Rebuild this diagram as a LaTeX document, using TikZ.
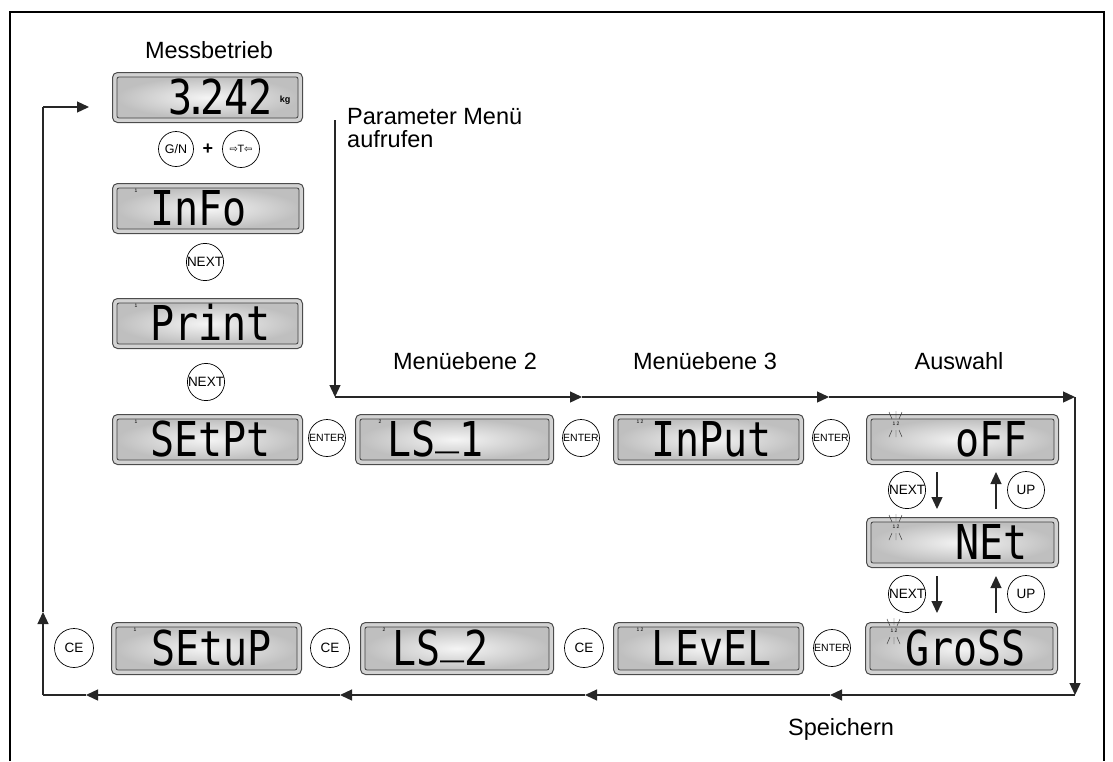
\documentclass[tikz,border=0pt]{standalone}
\usepackage{fontspec}
\setmainfont{Liberation Sans}
\newfontfamily\lcdfont{DejaVu Sans Mono}
\newfontfamily\symfont{DejaVu Sans}
\usetikzlibrary{arrows.meta}
\tikzset{
  frameline/.style={line width=2pt, black},
  flow/.style={line width=1.3pt, black!85},
  tip/.style={-{Triangle[length=12pt,width=11pt]}},
  lbl/.style={font=\fontsize{23.5}{25}\selectfont, inner sep=0pt},
  btn/.style={circle, draw, line width=0.7pt, minimum size=37pt, inner sep=0pt, fill=white, font=\fontsize{13.5}{13.5}\selectfont},
  btnsmall/.style={btn, font=\fontsize{10.5}{10.5}\selectfont},
  lcdout/.style={draw=black!70, line width=1pt, fill=gray!35, rounded corners=5pt, inner sep=0pt},
  lcdin/.style={draw=black!75, line width=0.8pt, rounded corners=2pt, inner color=white!92!gray, outer color=gray!50, inner sep=0pt},
  lcdtxt/.style={inner sep=0pt},
  ind/.style={font=\fontsize{5}{5}\selectfont, inner sep=0pt},
  ray/.style={line width=0.45pt, black!80},
}
\newcommand\lcdt[1]{{\lcdfont\fontsize{40}{40}\selectfont\scalebox{1}[1.2]{#1}}}
\newcommand\lcdus{\raisebox{0.3em}{\_}}
% name, left, top, width, height
\newcommand\lcdbox[5]{%
  \node[lcdout, minimum width=#4pt, minimum height=#5pt, anchor=north west] (#1) at (#2,#3) {};
  \node[lcdin, minimum width=#4pt-9pt, minimum height=#5pt-9pt] (#1i) at (#1.center) {};
}
\newcommand\blinkat[2]{%
  \draw[ray] (#1-6,#2-12) -- (#1-3,#2-5) (#1+1,#2-13) -- (#1+1,#2-6) (#1+7,#2-12) -- (#1+4,#2-5);
  \draw[ray] (#1-6,#2+13) -- (#1-3,#2+6) (#1+1,#2+13) -- (#1+1,#2+6) (#1+7,#2+13) -- (#1+4,#2+6);
}
\begin{document}
\begin{tikzpicture}[x=1pt,y=-1pt]
\useasboundingbox (0,0) rectangle (1113,761);
\draw[frameline] (10,761) -- (10,12) -- (1104,12) -- (1104,761);

% labels
\node[lbl, anchor=base] (tMess) at (209,58) {Messbetrieb};
\node[lbl, anchor=base west] (tPar) at (347,124) {Parameter Menü};
\node[lbl, anchor=base west] (tAuf) at (347,147) {aufrufen};
\node[lbl, anchor=base] (tM2) at (465,369) {Menüebene 2};
\node[lbl, anchor=base] (tM3) at (705,369) {Menüebene 3};
\node[lbl, anchor=base] (tAus) at (959,369) {Auswahl};
\node[lbl, anchor=base] (tSp) at (841,735) {Speichern};

% displays
\lcdbox{d0}{112}{72}{190}{50}
\lcdbox{dInfo}{112}{183}{191}{50}
\lcdbox{dPrint}{112}{298}{190}{50}
\lcdbox{dSetpt}{112}{414}{190}{50}
\lcdbox{dLSa}{355}{414}{198}{50}
\lcdbox{dInput}{613}{414}{190}{50}
\lcdbox{dOff}{866}{414}{192}{50}
\lcdbox{dNet}{866}{517}{192}{50}
\lcdbox{dSetup}{111}{622}{190}{52}
\lcdbox{dLSb}{360}{622}{193}{52}
\lcdbox{dLevel}{613}{622}{190}{52}
\lcdbox{dGross}{865}{622}{192}{52}

% display texts
\node[lcdtxt, anchor=base east] (x0) at ([xshift=-30pt,yshift=-17pt]d0.east) {\lcdt{3\kern-0.2em.\kern-0.2em242}};
\node[inner sep=0pt, font=\bfseries\fontsize{9}{9}\selectfont] (xkg) at (285,100) {kg};
\node[lcdtxt, anchor=base west] (x1) at ([xshift=38pt,yshift=-17pt]dInfo.west) {\lcdt{InFo}};
\node[lcdtxt, anchor=base west] (x2) at ([xshift=38pt,yshift=-17pt]dPrint.west) {\lcdt{Print}};
\node[lcdtxt, anchor=base west] (x3) at ([xshift=38pt,yshift=-17pt]dSetpt.west) {\lcdt{SEtPt}};
\node[lcdtxt, anchor=base west] (x4) at ([xshift=32pt,yshift=-17pt]dLSa.west) {\lcdt{LS\lcdus 1}};
\node[lcdtxt, anchor=base west] (x5) at ([xshift=38pt,yshift=-17pt]dInput.west) {\lcdt{InPut}};
\node[lcdtxt, anchor=base east] (x6) at ([xshift=162pt,yshift=-17pt]dOff.west) {\lcdt{oFF}};
\node[lcdtxt, anchor=base east] (x7) at ([xshift=162pt,yshift=-17pt]dNet.west) {\lcdt{NEt}};
\node[lcdtxt, anchor=base west] (x8) at ([xshift=40pt,yshift=-17pt]dSetup.west) {\lcdt{SEtuP}};
\node[lcdtxt, anchor=base west] (x9) at ([xshift=32pt,yshift=-17pt]dLSb.west) {\lcdt{LS\lcdus 2}};
\node[lcdtxt, anchor=base west] (x10) at ([xshift=38pt,yshift=-17pt]dLevel.west) {\lcdt{LEvEL}};
\node[lcdtxt, anchor=base west] (x11) at ([xshift=40pt,yshift=-17pt]dGross.west) {\lcdt{GroSS}};

% indicators
\node[ind] (i1) at (136,191) {1};
\node[ind] (i2) at (136,306) {1};
\node[ind] (i3) at (136,422) {1};
\node[ind] (i4) at (135,630) {1};
\node[ind] (i5) at (380,422) {2};
\node[ind] (i6) at (384,630) {2};
\node[ind] (i7) at (640,422) {1 2};
\node[ind] (i8) at (640,630) {1 2};
\node[ind] (i9) at (896,424) {1 2};
\node[ind] (i10) at (896,527) {1 2};
\node[ind] (i11) at (894,631) {1 2};
\blinkat{895}{424}
\blinkat{895}{527}
\blinkat{893}{631}

% buttons
\node[btn, minimum size=35pt, font=\fontsize{12.5}{12.5}\selectfont] (bGN) at (176,149) {G/N};
\node[inner sep=0pt, font=\bfseries\fontsize{18}{18}\selectfont] (bPlus) at (208,149) {+};
\node[btn, minimum size=37pt, font=\symfont\fontsize{10}{10}\selectfont] (bT) at (241,149) {⇨T⇦};
\node[btn] (bN1) at (205,262) {NEXT};
\node[btn] (bN2) at (206,382) {NEXT};
\node[btnsmall] (bE1) at (327,438) {ENTER};
\node[btnsmall] (bE2) at (581,438) {ENTER};
\node[btnsmall] (bE3) at (831,438) {ENTER};
\node[btn] (bN3) at (907,490) {NEXT};
\node[btn] (bU1) at (1026,490) {UP};
\node[btn] (bN4) at (907,594) {NEXT};
\node[btn] (bU2) at (1026,594) {UP};
\node[btn, minimum size=39pt] (bC1) at (74,648) {CE};
\node[btn, minimum size=39pt] (bC2) at (330,648) {CE};
\node[btn, minimum size=39pt] (bC3) at (584,648) {CE};
\node[btnsmall] (bE4) at (832,648) {ENTER};

% selection arrows
\draw[flow, tip] ([xshift=71pt,yshift=-7pt]dOff.south west) -- ([xshift=71pt,yshift=8pt]dNet.north west);
\draw[flow, tip] ([xshift=130pt,yshift=8pt]dNet.north west) -- ([xshift=130pt,yshift=-7pt]dOff.south west);
\draw[flow, tip] ([xshift=71pt,yshift=-8pt]dNet.south west) -- ([xshift=72pt,yshift=9pt]dGross.north west);
\draw[flow, tip] ([xshift=131pt,yshift=9pt]dGross.north west) -- ([xshift=130pt,yshift=-8pt]dNet.south west);

% main flow
\coordinate (p0) at (335,120);
\coordinate (p1) at (335,397);
\coordinate (p2) at (582,397);
\coordinate (p3) at (829,397);
\coordinate (p4) at (1075,397);
\coordinate (p5) at (1075,695);
\coordinate (q1) at (830,695);
\coordinate (q2) at (585,695);
\coordinate (q3) at (340,695);
\coordinate (q4) at (86,695);
\coordinate (q5) at (43,695);
\coordinate (q6) at (43,612);
\coordinate (q7) at (43,107);
\coordinate (q8) at (89,107);
\draw[flow, tip] (p0) -- (p1);
\draw[flow, tip] (p1) -- (p2);
\draw[flow, tip] (p2) -- (p3);
\draw[flow, tip] (p3) -- (p4);
\draw[flow, tip] (p4) -- (p5);
\draw[flow, tip] (p5) -- (q1);
\draw[flow, tip] (q1) -- (q2);
\draw[flow, tip] (q2) -- (q3);
\draw[flow, tip] (q3) -- (q4);
\draw[flow] (q4) -- (q5);
\draw[flow, tip] (q5) -- (q6);
\draw[flow] (q6) -- (q7);
\draw[flow, tip] (q7) -- (q8);
\end{tikzpicture}
\end{document}
